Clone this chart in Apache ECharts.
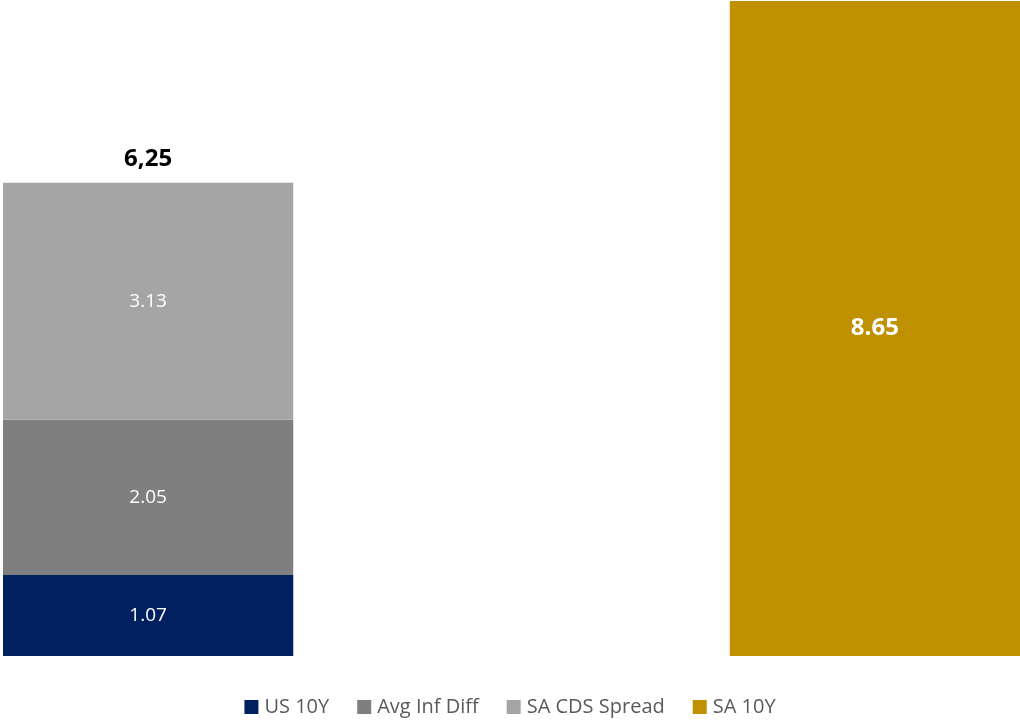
<!DOCTYPE html>
<html>
<head>
<meta charset="utf-8">
<script src="https://cdn.jsdelivr.net/npm/echarts@6/dist/echarts.min.js"></script>
<style>
html,body{margin:0;padding:0;background:#fff;}
#c{width:1020px;height:721px;}
</style>
</head>
<body>
<div id="c"></div>
<script>
const categories = ['SA 10Y'];
const us10y = [1.07];
const avgInfDiff = [2.05];
const saCdsSpread = [3.13];
const sa10y = [8.65];
const totalLabel = '6,25';
const seriesNames = ['US 10Y', 'Avg Inf Diff', 'SA CDS Spread', 'SA 10Y'];
const colors = ['#002060', '#7F7F7F', '#A5A5A5', '#BF9000'];

const FONT = '"Open Sans", "Noto Sans", sans-serif';
const chart = echarts.init(document.getElementById('c'));
const innerLabel = {
  show: true, position: 'inside', color: '#ffffff',
  fontFamily: FONT, fontSize: 19,
  formatter: p => p.value.toFixed(2)
};
chart.setOption({
  animation: false,
  grid: { left: 3, right: 0, top: 1, bottom: 65 },
  legend: {
    bottom: -1, left: 'center', itemWidth: 14, itemHeight: 14, itemGap: 28,
    icon: 'rect',
    textStyle: { color: '#595959', fontSize: 20, fontFamily: FONT, padding: [0, 0, 0, 1] },
    data: seriesNames
  },
  xAxis: {
    type: 'category', data: categories,
    axisLine: { show: false }, axisTick: { show: false }, axisLabel: { show: false }
  },
  yAxis: {
    type: 'value', min: 0, max: 8.65,
    show: false, splitLine: { show: false }
  },
  series: [
    { name: seriesNames[0], type: 'bar', stack: 'a', data: us10y, itemStyle: { color: colors[0] },
      barWidth: 291, barGap: '150%', label: innerLabel },
    { name: seriesNames[1], type: 'bar', stack: 'a', data: avgInfDiff, itemStyle: { color: colors[1] },
      barWidth: 291, barGap: '150%', label: innerLabel },
    { name: seriesNames[2], type: 'bar', stack: 'a', data: saCdsSpread, itemStyle: { color: colors[2] },
      barWidth: 291, barGap: '150%', label: innerLabel },
    { name: seriesNames[3], type: 'bar', stack: 'b', data: sa10y, itemStyle: { color: colors[3] },
      barWidth: 291, barGap: '150%',
      label: { show: true, position: 'inside', color: '#ffffff', fontFamily: FONT, fontSize: 24, fontWeight: 'bold',
        formatter: p => p.value.toFixed(2) } },
    { name: 'total', type: 'bar', stack: 'a', data: [0], itemStyle: { color: 'transparent' },
      barWidth: 291, barGap: '150%', legendHoverLink: false,
      label: { show: true, position: 'top', distance: 12, color: '#000000', fontFamily: FONT, fontSize: 24, fontWeight: 'bold',
        formatter: () => totalLabel } }
  ]
});
</script>
</body>
</html>
